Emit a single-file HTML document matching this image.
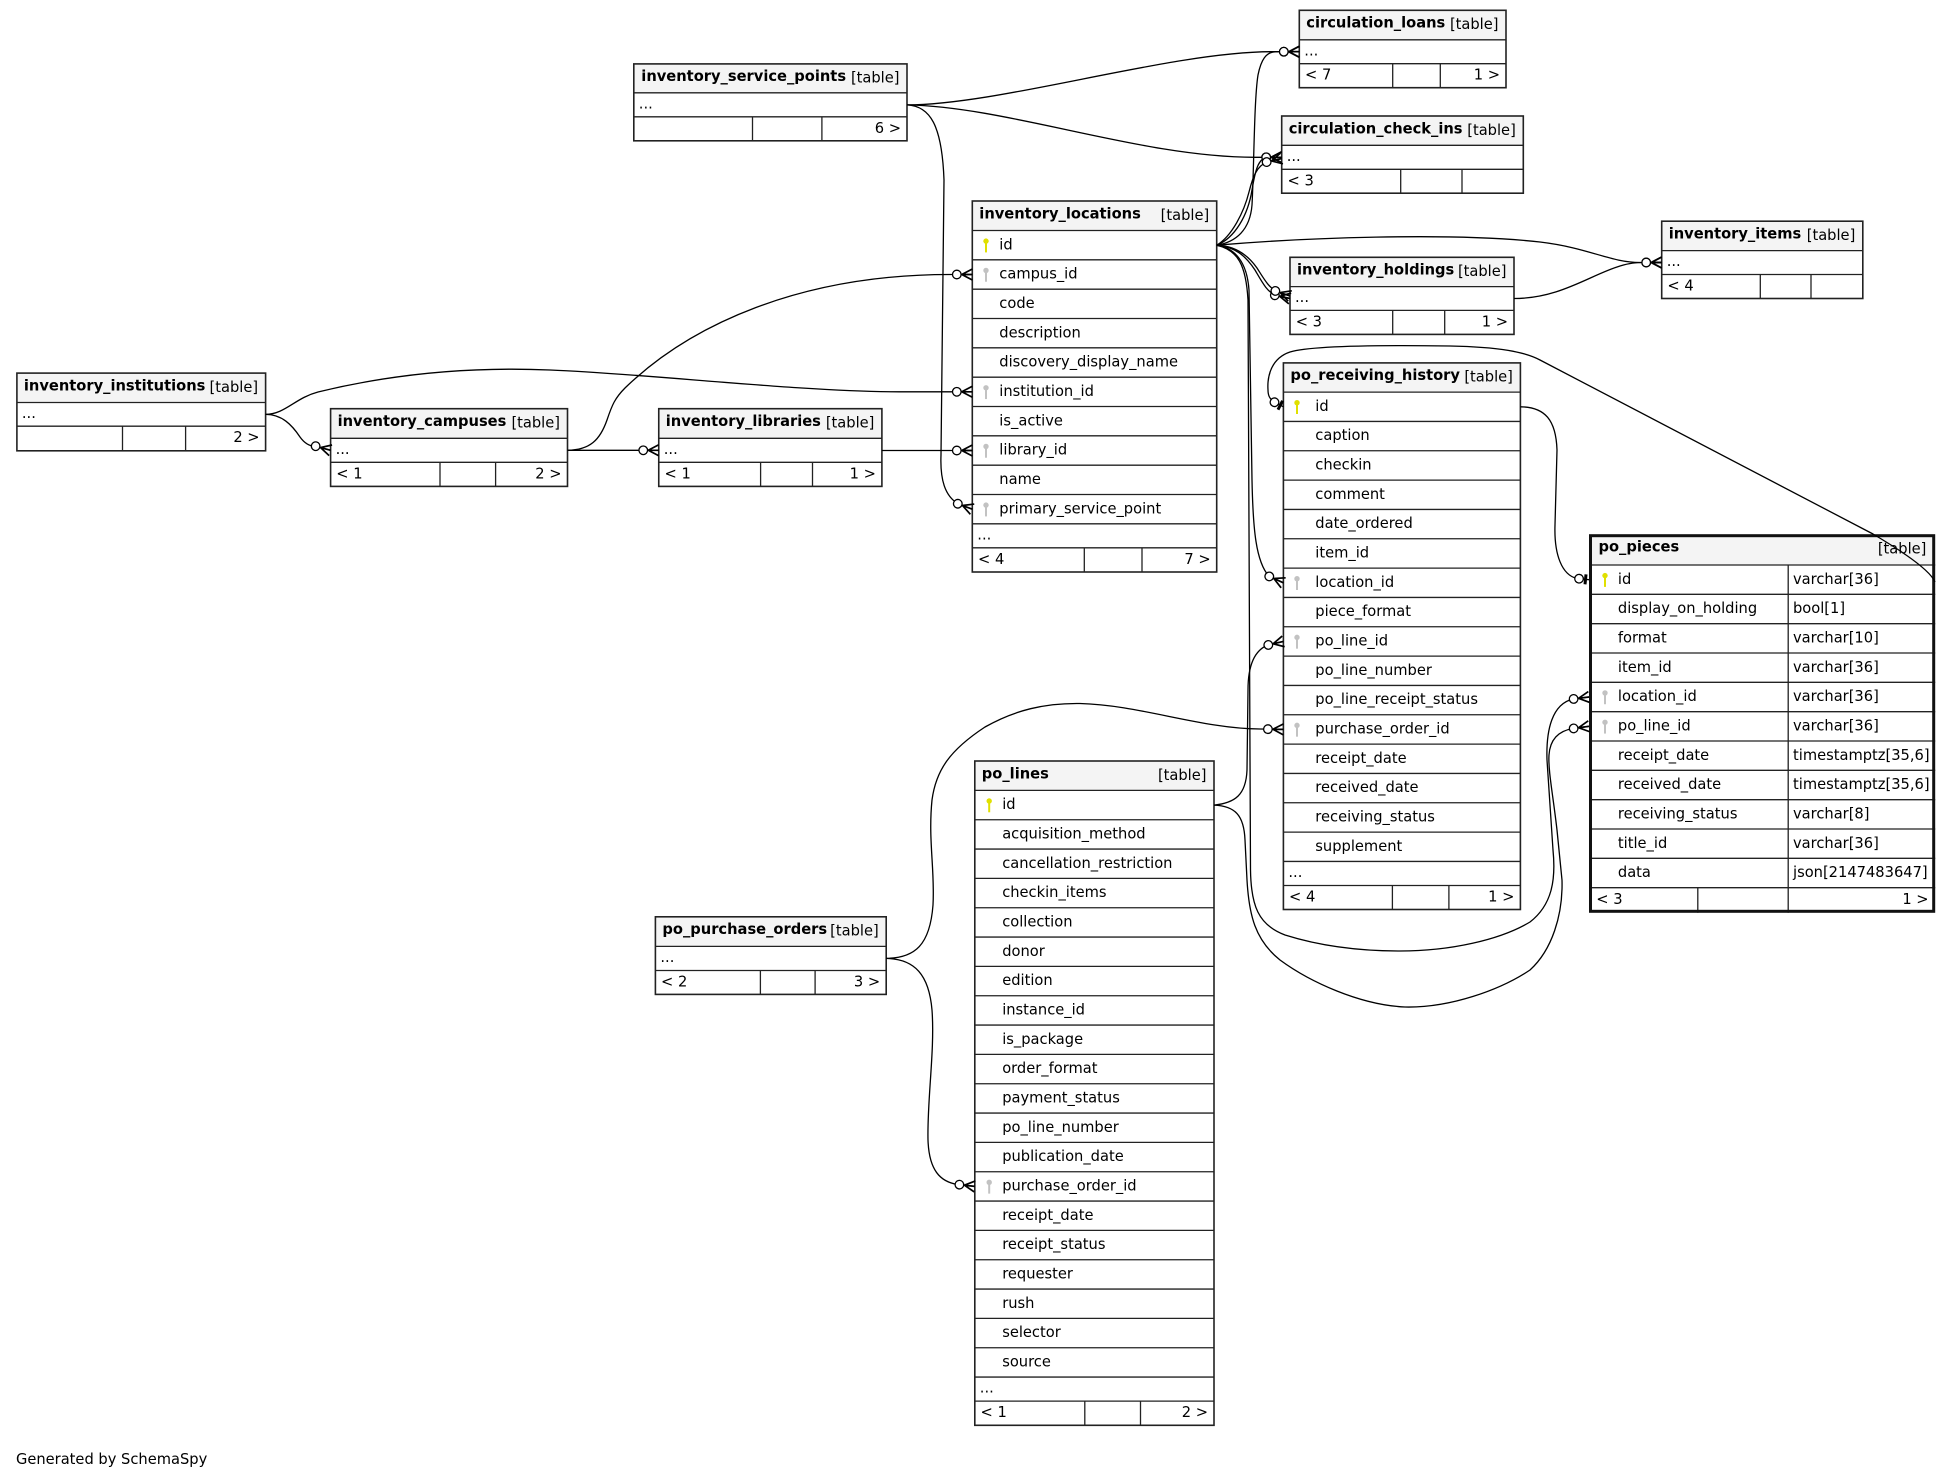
<!DOCTYPE html>
<html><head><meta charset="utf-8"><style>
html,body{margin:0;padding:0;background:#fff}
svg{display:block}
.t{font-family:"DejaVu Sans","Liberation Sans",sans-serif;font-size:14.67px;fill:#000}
.b{font-weight:bold}
.r{text-anchor:end}
.ln{stroke:#222;stroke-width:1.3;fill:none}
.ol{stroke:#222;stroke-width:1.6;fill:none}
.e{stroke:#000;stroke-width:1.3;fill:none}
</style></head><body>
<svg xmlns="http://www.w3.org/2000/svg" xmlns:xlink="http://www.w3.org/1999/xlink" width="1952" height="1480" viewBox="0 0 1952 1480">
<defs>
<marker id="c" markerUnits="userSpaceOnUse" viewBox="-24 -10 28 20" refX="0" refY="0" markerWidth="28" markerHeight="20" orient="auto" overflow="visible">
<path d="M-10.5,0L0,-5.5M-10.5,0L0,0M-10.5,0L0,5.5" stroke="#000" stroke-width="1.7" fill="none"/>
<circle cx="-15.5" cy="0" r="4.3" fill="#fff" stroke="#000" stroke-width="1.3"/>
</marker>
<marker id="tt" markerUnits="userSpaceOnUse" viewBox="-24 -10 28 20" refX="0" refY="0" markerWidth="28" markerHeight="20" orient="auto" overflow="visible">
<path d="M-3.5,-5L-3.5,5" stroke="#000" stroke-width="3"/>
<circle cx="-10" cy="0" r="4.3" fill="#fff" stroke="#000" stroke-width="1.3"/>
</marker>
<g id="kp"><circle cx="0" cy="0" r="2.7" fill="#e0e000"/><rect x="-1" y="1.5" width="2" height="9.8" fill="#e0e000"/></g>
<g id="kf"><circle cx="0" cy="0" r="2.7" fill="#c2c2c2"/><rect x="-1" y="1.5" width="2" height="9.8" fill="#c2c2c2"/></g>
</defs>
<rect width="1952" height="1480" fill="#fff"/>

<!-- inventory_service_points -->
<rect x="633.8" y="63.9" width="273.2" height="76.9" fill="#fff"/>
<rect x="633.8" y="63.9" width="273.2" height="28.9" fill="#f4f4f4"/>
<path class="ln" d="M633.8,92.8H907M633.8,116.8H907M752.5,116.8V140.8M821.9,116.8V140.8"/>
<rect class="ol" x="633.8" y="63.9" width="273.2" height="76.9"/>
<text class="t b" x="641.3" y="81.2">inventory_service_points</text>
<text class="t r" x="899.5" y="82.7">[table]</text>
<text class="t" x="638.8" y="108.3">...</text>
<text class="t r" x="901" y="132.8">6 &gt;</text>

<!-- circulation_loans -->
<rect x="1299.3" y="10.3" width="206.7" height="77.4" fill="#fff"/>
<rect x="1299.3" y="10.3" width="206.7" height="29.5" fill="#f4f4f4"/>
<path class="ln" d="M1299.3,39.8H1506M1299.3,63.7H1506M1392.7,63.7V87.7M1440.3,63.7V87.7"/>
<rect class="ol" x="1299.3" y="10.3" width="206.7" height="77.4"/>
<text class="t b" x="1306.3" y="27.6">circulation_loans</text>
<text class="t r" x="1498.5" y="29.1">[table]</text>
<text class="t" x="1304.3" y="55.3">...</text>
<text class="t" x="1305" y="79.7">&lt; 7</text>
<text class="t r" x="1500" y="79.7">1 &gt;</text>

<!-- circulation_check_ins -->
<rect x="1281.7" y="116" width="241.6" height="77.2" fill="#fff"/>
<rect x="1281.7" y="116" width="241.6" height="29.3" fill="#f4f4f4"/>
<path class="ln" d="M1281.7,145.3H1523.3M1281.7,169.3H1523.3M1400.7,169.3V193.2M1462,169.3V193.2"/>
<rect class="ol" x="1281.7" y="116" width="241.6" height="77.2"/>
<text class="t b" x="1288.7" y="133.3">circulation_check_ins</text>
<text class="t r" x="1515.8" y="134.8">[table]</text>
<text class="t" x="1286.7" y="160.8">...</text>
<text class="t" x="1287.5" y="185.3">&lt; 3</text>

<!-- inventory_holdings -->
<rect x="1290" y="257.3" width="224" height="77.1" fill="#fff"/>
<rect x="1290" y="257.3" width="224" height="29.3" fill="#f4f4f4"/>
<path class="ln" d="M1290,286.6H1514M1290,310.4H1514M1392.7,310.4V334.4M1444.7,310.4V334.4"/>
<rect class="ol" x="1290" y="257.3" width="224" height="77.1"/>
<text class="t b" x="1297" y="274.6">inventory_holdings</text>
<text class="t r" x="1506.5" y="276.1">[table]</text>
<text class="t" x="1295" y="302.1">...</text>
<text class="t" x="1295.7" y="326.4">&lt; 3</text>
<text class="t r" x="1508" y="326.4">1 &gt;</text>

<!-- inventory_items -->
<rect x="1661.7" y="221.2" width="201.1" height="77.3" fill="#fff"/>
<rect x="1661.7" y="221.2" width="201.1" height="29.4" fill="#f4f4f4"/>
<path class="ln" d="M1661.7,250.6H1862.8M1661.7,274.5H1862.8M1760.3,274.5V298.5M1811,274.5V298.5"/>
<rect class="ol" x="1661.7" y="221.2" width="201.1" height="77.3"/>
<text class="t b" x="1668.7" y="238.5">inventory_items</text>
<text class="t r" x="1855.3" y="240">[table]</text>
<text class="t" x="1666.7" y="266.1">...</text>
<text class="t" x="1667.4" y="290.5">&lt; 4</text>

<!-- inventory_institutions -->
<rect x="16.9" y="373.1" width="248.7" height="77.7" fill="#fff"/>
<rect x="16.9" y="373.1" width="248.7" height="29.4" fill="#f4f4f4"/>
<path class="ln" d="M16.9,402.5H265.6M16.9,426.2H265.6M122.5,426.2V450.8M185.6,426.2V450.8"/>
<rect class="ol" x="16.9" y="373.1" width="248.7" height="77.7"/>
<text class="t b" x="23.9" y="390.4">inventory_institutions</text>
<text class="t r" x="258.1" y="391.9">[table]</text>
<text class="t" x="21.9" y="418">...</text>
<text class="t r" x="259.6" y="442.2">2 &gt;</text>

<!-- inventory_campuses -->
<rect x="330.6" y="408.7" width="236.9" height="77.7" fill="#fff"/>
<rect x="330.6" y="408.7" width="236.9" height="29.6" fill="#f4f4f4"/>
<path class="ln" d="M330.6,438.3H567.5M330.6,462.3H567.5M440,462.3V486.4M495.6,462.3V486.4"/>
<rect class="ol" x="330.6" y="408.7" width="236.9" height="77.7"/>
<text class="t b" x="337.6" y="426">inventory_campuses</text>
<text class="t r" x="560" y="427.5">[table]</text>
<text class="t" x="335.6" y="453.8">...</text>
<text class="t" x="336.3" y="478.3">&lt; 1</text>
<text class="t r" x="561.5" y="478.3">2 &gt;</text>

<!-- inventory_libraries -->
<rect x="658.75" y="408.7" width="223.15" height="77.7" fill="#fff"/>
<rect x="658.75" y="408.7" width="223.15" height="29.6" fill="#f4f4f4"/>
<path class="ln" d="M658.75,438.3H881.9M658.75,462.3H881.9M760.6,462.3V486.4M812.5,462.3V486.4"/>
<rect class="ol" x="658.75" y="408.7" width="223.15" height="77.7"/>
<text class="t b" x="665.75" y="426">inventory_libraries</text>
<text class="t r" x="874.4" y="427.5">[table]</text>
<text class="t" x="663.75" y="453.8">...</text>
<text class="t" x="664.5" y="478.3">&lt; 1</text>
<text class="t r" x="875.9" y="478.3">1 &gt;</text>

<!-- po_purchase_orders -->
<rect x="655.4" y="916.8" width="230.8" height="77.6" fill="#fff"/>
<rect x="655.4" y="916.8" width="230.8" height="29.6" fill="#f4f4f4"/>
<path class="ln" d="M655.4,946.4H886.2M655.4,970.5H886.2M760.4,970.5V994.4M815.1,970.5V994.4"/>
<rect class="ol" x="655.4" y="916.8" width="230.8" height="77.6"/>
<text class="t b" x="662.4" y="934.1">po_purchase_orders</text>
<text class="t r" x="878.7" y="935.6">[table]</text>
<text class="t" x="660.4" y="961.9">...</text>
<text class="t" x="661" y="986.5">&lt; 2</text>
<text class="t r" x="880.2" y="986.5">3 &gt;</text>

<!-- inventory_locations -->
<rect x="972.3" y="201" width="244.4" height="371" fill="#fff"/>
<rect x="972.3" y="201" width="244.4" height="29.5" fill="#f4f4f4"/>
<path class="ln" d="M972.3,230.5H1216.7M972.3,259.83H1216.7M972.3,289.17H1216.7M972.3,318.5H1216.7M972.3,347.83H1216.7M972.3,377.17H1216.7M972.3,406.5H1216.7M972.3,435.83H1216.7M972.3,465.17H1216.7M972.3,494.5H1216.7M972.3,523.83H1216.7M972.3,547.8H1216.7M1084.3,547.8V572M1142,547.8V572"/>
<rect class="ol" x="972.3" y="201" width="244.4" height="371"/>
<text class="t b" x="979.3" y="218.3">inventory_locations</text>
<text class="t r" x="1209.2" y="219.8">[table]</text>
<use xlink:href="#kp" x="986" y="241.1"/>
<use xlink:href="#kf" x="986" y="270.43"/>
<use xlink:href="#kf" x="986" y="387.77"/>
<use xlink:href="#kf" x="986" y="446.43"/>
<use xlink:href="#kf" x="986" y="505.1"/>
<text class="t" x="999.3" y="249.3">id</text>
<text class="t" x="999.3" y="278.63">campus_id</text>
<text class="t" x="999.3" y="307.97">code</text>
<text class="t" x="999.3" y="337.3">description</text>
<text class="t" x="999.3" y="366.63">discovery_display_name</text>
<text class="t" x="999.3" y="395.97">institution_id</text>
<text class="t" x="999.3" y="425.3">is_active</text>
<text class="t" x="999.3" y="454.63">library_id</text>
<text class="t" x="999.3" y="483.97">name</text>
<text class="t" x="999.3" y="513.3">primary_service_point</text>
<text class="t" x="977.3" y="539.3">...</text>
<text class="t" x="978" y="563.8">&lt; 4</text>
<text class="t r" x="1210.7" y="563.8">7 &gt;</text>

<!-- po_receiving_history -->
<rect x="1283.4" y="362.9" width="237" height="546.6" fill="#fff"/>
<rect x="1283.4" y="362.9" width="237" height="29.2" fill="#f4f4f4"/>
<path class="ln" d="M1283.4,392.1H1520.4M1283.4,421.43H1520.4M1283.4,450.77H1520.4M1283.4,480.1H1520.4M1283.4,509.43H1520.4M1283.4,538.77H1520.4M1283.4,568.1H1520.4M1283.4,597.43H1520.4M1283.4,626.77H1520.4M1283.4,656.1H1520.4M1283.4,685.43H1520.4M1283.4,714.77H1520.4M1283.4,744.1H1520.4M1283.4,773.43H1520.4M1283.4,802.77H1520.4M1283.4,832.1H1520.4M1283.4,861.43H1520.4M1283.4,885.5H1520.4M1392.4,885.5V909.5M1448.9,885.5V909.5"/>
<rect class="ol" x="1283.4" y="362.9" width="237" height="546.6"/>
<text class="t b" x="1290.4" y="380.2">po_receiving_history</text>
<text class="t r" x="1512.9" y="381.7">[table]</text>
<use xlink:href="#kp" x="1297" y="402.7"/>
<use xlink:href="#kf" x="1297" y="578.7"/>
<use xlink:href="#kf" x="1297" y="637.37"/>
<use xlink:href="#kf" x="1297" y="725.37"/>
<text class="t" x="1315.3" y="410.9">id</text>
<text class="t" x="1315.3" y="440.23">caption</text>
<text class="t" x="1315.3" y="469.57">checkin</text>
<text class="t" x="1315.3" y="498.9">comment</text>
<text class="t" x="1315.3" y="528.23">date_ordered</text>
<text class="t" x="1315.3" y="557.57">item_id</text>
<text class="t" x="1315.3" y="586.9">location_id</text>
<text class="t" x="1315.3" y="616.23">piece_format</text>
<text class="t" x="1315.3" y="645.57">po_line_id</text>
<text class="t" x="1315.3" y="674.9">po_line_number</text>
<text class="t" x="1315.3" y="704.23">po_line_receipt_status</text>
<text class="t" x="1315.3" y="733.57">purchase_order_id</text>
<text class="t" x="1315.3" y="762.9">receipt_date</text>
<text class="t" x="1315.3" y="792.23">received_date</text>
<text class="t" x="1315.3" y="821.57">receiving_status</text>
<text class="t" x="1315.3" y="850.9">supplement</text>
<text class="t" x="1288.4" y="876.9">...</text>
<text class="t" x="1289" y="901.5">&lt; 4</text>
<text class="t r" x="1514.4" y="901.5">1 &gt;</text>

<!-- po_lines -->
<rect x="974.8" y="761" width="239.2" height="664.3" fill="#fff"/>
<rect x="974.8" y="761" width="239.2" height="29.4" fill="#f4f4f4"/>
<path class="ln" d="M974.8,790.4H1214M974.8,819.73H1214M974.8,849.07H1214M974.8,878.4H1214M974.8,907.73H1214M974.8,937.07H1214M974.8,966.4H1214M974.8,995.73H1214M974.8,1025.07H1214M974.8,1054.4H1214M974.8,1083.73H1214M974.8,1113.07H1214M974.8,1142.4H1214M974.8,1171.73H1214M974.8,1201.07H1214M974.8,1230.4H1214M974.8,1259.73H1214M974.8,1289.07H1214M974.8,1318.4H1214M974.8,1347.73H1214M974.8,1377.07H1214M974.8,1401.1H1214M1084.8,1401.1V1425.3M1140.5,1401.1V1425.3"/>
<rect class="ol" x="974.8" y="761" width="239.2" height="664.3"/>
<text class="t b" x="981.8" y="778.3">po_lines</text>
<text class="t r" x="1206.5" y="779.8">[table]</text>
<use xlink:href="#kp" x="989.2" y="801"/>
<use xlink:href="#kf" x="989.2" y="1182.33"/>
<text class="t" x="1002.2" y="809.2">id</text>
<text class="t" x="1002.2" y="838.53">acquisition_method</text>
<text class="t" x="1002.2" y="867.87">cancellation_restriction</text>
<text class="t" x="1002.2" y="897.2">checkin_items</text>
<text class="t" x="1002.2" y="926.53">collection</text>
<text class="t" x="1002.2" y="955.87">donor</text>
<text class="t" x="1002.2" y="985.2">edition</text>
<text class="t" x="1002.2" y="1014.53">instance_id</text>
<text class="t" x="1002.2" y="1043.87">is_package</text>
<text class="t" x="1002.2" y="1073.2">order_format</text>
<text class="t" x="1002.2" y="1102.53">payment_status</text>
<text class="t" x="1002.2" y="1131.87">po_line_number</text>
<text class="t" x="1002.2" y="1161.2">publication_date</text>
<text class="t" x="1002.2" y="1190.53">purchase_order_id</text>
<text class="t" x="1002.2" y="1219.87">receipt_date</text>
<text class="t" x="1002.2" y="1249.2">receipt_status</text>
<text class="t" x="1002.2" y="1278.53">requester</text>
<text class="t" x="1002.2" y="1307.87">rush</text>
<text class="t" x="1002.2" y="1337.2">selector</text>
<text class="t" x="1002.2" y="1366.53">source</text>
<text class="t" x="979.8" y="1392.6">...</text>
<text class="t" x="980.5" y="1417.1">&lt; 1</text>
<text class="t r" x="1208" y="1417.1">2 &gt;</text>

<!-- po_pieces -->
<rect x="1589" y="534.2" width="346.2" height="378.6" fill="#fff"/>
<rect x="1589" y="534.2" width="346.2" height="30.8" fill="#f4f4f4"/>
<path class="ln" d="M1589,565H1935.2M1589,594.33H1935.2M1589,623.67H1935.2M1589,653H1935.2M1589,682.33H1935.2M1589,711.67H1935.2M1589,741H1935.2M1589,770.33H1935.2M1589,799.67H1935.2M1589,829H1935.2M1589,858.33H1935.2M1589,887.67H1935.2M1788.2,565V912.8M1697.8,887.67V912.8"/>
<rect x="1590.5" y="535.7" width="343.2" height="375.6" fill="none" stroke="#111" stroke-width="3"/>
<text class="t b" x="1598.5" y="551.5">po_pieces</text>
<text class="t r" x="1926.4" y="553.5">[table]</text>
<use xlink:href="#kp" x="1605" y="575.6"/>
<use xlink:href="#kf" x="1605" y="692.93"/>
<use xlink:href="#kf" x="1605" y="722.27"/>
<text class="t" x="1617.9" y="583.8">id</text>
<text class="t" x="1617.9" y="613.13">display_on_holding</text>
<text class="t" x="1617.9" y="642.47">format</text>
<text class="t" x="1617.9" y="671.8">item_id</text>
<text class="t" x="1617.9" y="701.13">location_id</text>
<text class="t" x="1617.9" y="730.47">po_line_id</text>
<text class="t" x="1617.9" y="759.8">receipt_date</text>
<text class="t" x="1617.9" y="789.13">received_date</text>
<text class="t" x="1617.9" y="818.47">receiving_status</text>
<text class="t" x="1617.9" y="847.8">title_id</text>
<text class="t" x="1617.9" y="877.13">data</text>
<text class="t" x="1793" y="583.8">varchar[36]</text>
<text class="t" x="1793" y="613.13">bool[1]</text>
<text class="t" x="1793" y="642.47">varchar[10]</text>
<text class="t" x="1793" y="671.8">varchar[36]</text>
<text class="t" x="1793" y="701.13">varchar[36]</text>
<text class="t" x="1793" y="730.47">varchar[36]</text>
<text class="t" x="1793" y="759.8">timestamptz[35,6]</text>
<text class="t" x="1793" y="789.13">timestamptz[35,6]</text>
<text class="t" x="1793" y="818.47">varchar[8]</text>
<text class="t" x="1793" y="847.8">varchar[36]</text>
<text class="t" x="1793" y="877.13">json[2147483647]</text>
<text class="t" x="1596.3" y="903.8">&lt; 3</text>
<text class="t r" x="1928.6" y="903.8">1 &gt;</text>

<!-- edges -->
<g class="e">
<path marker-end="url(#c)" d="M907,104.9 C1000,105 1170,51.7 1272,51.7 L1299.3,51.7"/>
<path marker-end="url(#c)" d="M907,104.9 C1010,107 1140,157.3 1255,157.3 L1281.7,157.3"/>
<path marker-end="url(#c)" d="M907,104.9 C930,106 942,125 944,180 L941,455 C940,480 945,496 958,503.8 L972.3,509.2"/>
<path marker-end="url(#c)" d="M265.6,414.4 C282,414.4 292,425 300,437 C305,444 310,446.5 316,446.3 L330.6,450.3"/>
<path marker-end="url(#c)" d="M265.6,414.4 C285,414.4 295,398 318,392 C400,372 480,367 550,370 C650,374 800,391.8 900,391.8 L972.3,391.8"/>
<path marker-end="url(#c)" d="M567.5,450.3 L658.75,450.3"/>
<path marker-end="url(#c)" d="M567.5,450.3 C590,450 600,440 607,420 C612,405 615,398 625,388 C690,325 800,274.5 950,274.5 L972.3,274.5"/>
<path marker-end="url(#c)" d="M881.9,450.5 L972.3,450.5"/>
<path marker-end="url(#c)" d="M1216.7,245.2 C1236,242 1250,230 1252,205 C1254,170 1254,100 1258,75 C1261,60 1266,51.7 1276,51.7 L1299.3,51.7"/>
<path marker-end="url(#c)" d="M1216.7,245.2 C1235,238 1248,215 1252,190 C1255,172 1258,157.3 1268,157.3 L1281.7,157.3"/>
<path marker-end="url(#c)" d="M1216.7,245.2 C1232,236 1244,212 1249,192 C1253,176 1257,166 1267,162 L1281.7,158.5"/>
<path marker-end="url(#c)" d="M1216.7,245.2 C1300,238 1450,232 1540,242 C1590,248 1610,262.5 1640,262.5 L1661.7,262.5"/>
<path marker-end="url(#c)" d="M1514,298.5 C1560,298.5 1590,275 1620,266 C1630,263 1635,262.5 1645,262.5 L1661.7,262.5"/>
<path marker-end="url(#c)" d="M1216.7,245.2 C1235,247 1245,255 1255,270 C1262,282 1267,292 1276,295.5 L1290,298.5"/>
<path marker-end="url(#c)" d="M1216.7,245.2 C1238,246 1250,258 1257,268 C1264,279 1269,288 1277,291.5 L1290,296"/>
<path marker-end="url(#c)" d="M1216.7,245.2 C1235,248 1247,262 1249,290 L1252,480 C1253,530 1256,562 1269,576.3 L1283.4,582.8"/>
<path marker-end="url(#c)" d="M1216.7,245.2 C1238,250 1246,265 1248,300 L1250.5,870 C1251,905 1258,925 1285,935 C1320,946 1360,951 1400,951 C1450,951 1500,940 1530,922 C1552,905 1556,880 1553,850 L1547,760 C1546,730 1552,704 1573,699 L1589,697"/>
<path marker-end="url(#tt)" d="M1520.4,406.8 C1545,407 1556,420 1557,450 L1555,525 C1554,555 1562,575 1577,578.5 L1589,579.7"/>
<path marker-end="url(#tt)" d="M1935,582 C1930,570 1900,550 1873,534 L1540,360 C1525,352 1500,347 1450,346 C1380,345 1310,346 1290,352 C1272,358 1267,375 1268,390 C1268,396 1270,399 1274,402 L1283.4,406.8"/>
<path marker-end="url(#c)" d="M1214,805.1 C1235,803 1246,795 1247,770 L1248,690 C1248,665 1255,650 1268,645 L1283.4,641.4"/>
<path marker-end="url(#c)" d="M1214,805.1 C1235,806 1244,815 1245,840 L1247,880 C1249,915 1255,940 1280,960 C1310,982 1360,1005 1405,1007 C1450,1008 1500,990 1530,970 C1552,950 1563,915 1562,880 L1557,830 C1553,795 1548,770 1549,755 C1550,740 1558,731 1573,728.5 L1589,726.3"/>
<path marker-end="url(#c)" d="M886.2,958.4 C915,958 930,945 933,905 C935,870 928,840 932,800 C936,770 950,750 985,727 C1015,710 1045,703 1080,703.5 C1140,705 1200,728.5 1260,729 L1283.4,729.4"/>
<path marker-end="url(#c)" d="M886.2,958.4 C915,959 929,975 932,1010 C935,1050 927,1100 928,1140 C929,1170 940,1182 958,1184.5 L974.8,1186.4"/>
</g>

<text class="t" x="16" y="1464">Generated by SchemaSpy</text>
</svg>
</body></html>
